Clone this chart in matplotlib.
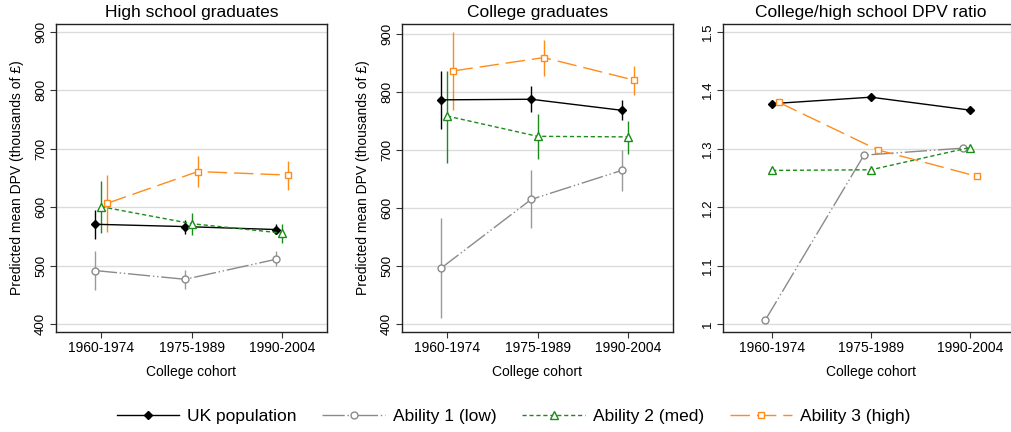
import numpy as np
import matplotlib
matplotlib.use('Agg')
import matplotlib.pyplot as plt
from matplotlib.lines import Line2D

plt.rcParams['font.family'] = ['Liberation Sans', 'DejaVu Sans']

cohorts = ['1960-1974', '1975-1989', '1990-2004']
series = ['UK population', 'Ability 1 (low)', 'Ability 2 (med)', 'Ability 3 (high)']

# high school graduates: mean and 95% CI
hs_uk = [571, 567, 562]
hs_uk_lo = [546, 555, 555]
hs_uk_hi = [596, 578, 572]
hs_a1 = [492, 477, 511]
hs_a1_lo = [458, 460, 500]
hs_a1_hi = [525, 493, 525]
hs_a2 = [601, 572, 556]
hs_a2_lo = [556, 552, 539]
hs_a2_hi = [645, 591, 571]
hs_a3 = [607, 661, 655]
hs_a3_lo = [558, 634, 629]
hs_a3_hi = [655, 688, 679]

# college graduates
col_uk = [787, 788, 769]
col_uk_lo = [736, 766, 752]
col_uk_hi = [837, 811, 787]
col_a1 = [496, 615, 665]
col_a1_lo = [410, 565, 630]
col_a1_hi = [583, 665, 701]
col_a2 = [759, 724, 723]
col_a2_lo = [678, 684, 693]
col_a2_hi = [837, 762, 751]
col_a3 = [837, 860, 821]
col_a3_lo = [770, 828, 796]
col_a3_hi = [905, 891, 845]

# ratio
ratio_uk = [1.377, 1.388, 1.366]
ratio_a1 = [1.007, 1.289, 1.301]
ratio_a2 = [1.263, 1.264, 1.302]
ratio_a3 = [1.379, 1.298, 1.253]

styles = [
    dict(color='black', ls='-', marker='D', ms=4.2, mfc='black', mec='black', ecol='black'),
    dict(color='#8a8a8a', ls=(0, (16, 2, 1, 2, 1, 2)), marker='o', ms=5, mfc='white', mec='#8a8a8a', ecol='#9a9a9a'),
    dict(color='#1a8c1a', ls=(0, (3, 2)), marker='^', ms=5.5, mfc='white', mec='#1a8c1a', ecol='#1a8c1a'),
    dict(color='#ff8c1a', ls=(0, (14, 5)), marker='s', ms=5, mfc='white', mec='#ff8c1a', ecol='#ff8c1a'),
]

W, H = 1011, 432
fig = plt.figure(figsize=(W / 100, H / 100), dpi=100)

def px(l, b, w, h):
    return [l / W, (H - b) / H, w / W, h / H]

ax1 = fig.add_axes(px(56, 332, 271, 308))
ax2 = fig.add_axes(px(402, 332, 271, 308))
ax3 = fig.add_axes(px(722.7, 332, 296.4, 308))

x = np.arange(1, 4)

def draw(ax, vals, offs, cis=None):
    for i, v in enumerate(vals):
        st = styles[i]
        xx = x + offs[i]
        if cis is not None:
            ax.vlines(xx, cis[i][0], cis[i][1], color=st['ecol'], lw=1, zorder=2)
        ax.plot(xx, v, color=st['color'], ls=st['ls'], lw=1, marker=st['marker'], ms=st['ms'],
                mfc=st['mfc'], mec=st['mec'], mew=1, zorder=3)

def style(ax, ylim, yticks, ylabels, title, ylabel=True):
    ax.set_xlim(0.5, 3.5)
    ax.set_ylim(*ylim)
    ax.set_xticks(x)
    ax.set_xticklabels(cohorts, fontsize=10)
    ax.set_yticks(yticks)
    ax.set_yticklabels(ylabels, fontsize=9.5, rotation=90, va='center')
    ax.grid(axis='y', color='#dcdcdc', lw=1, zorder=0)
    ax.set_axisbelow(True)
    ax.tick_params(direction='out', length=4.5, width=0.8, color='#333333', pad=2)
    for s in ax.spines.values():
        s.set_color('#222222')
        s.set_linewidth(1)
    ax.set_title(title, fontsize=12.5, pad=5)
    ax.set_xlabel('College cohort', fontsize=10, labelpad=7)
    if ylabel:
        ax.set_ylabel('Predicted mean DPV (thousands of £)', fontsize=10, labelpad=8)

off = [-0.07, -0.07, 0, 0.07]
draw(ax1, [hs_uk, hs_a1, hs_a2, hs_a3], off,
     [(hs_uk_lo, hs_uk_hi), (hs_a1_lo, hs_a1_hi), (hs_a2_lo, hs_a2_hi), (hs_a3_lo, hs_a3_hi)])
draw(ax2, [col_uk, col_a1, col_a2, col_a3], off,
     [(col_uk_lo, col_uk_hi), (col_a1_lo, col_a1_hi), (col_a2_lo, col_a2_hi), (col_a3_lo, col_a3_hi)])
draw(ax3, [ratio_uk, ratio_a1, ratio_a2, ratio_a3], [0, -0.07, 0, 0.07])

ticks = [400, 500, 600, 700, 800, 900]
style(ax1, (387, 913), ticks, [str(t) for t in ticks], 'High school graduates')
style(ax2, (386, 918), ticks, [str(t) for t in ticks], 'College graduates')
rt = [1.0, 1.1, 1.2, 1.3, 1.4, 1.5]
style(ax3, (0.987, 1.513), rt, ['1', '1.1', '1.2', '1.3', '1.4', '1.5'],
      'College/high school DPV ratio', ylabel=False)

handles = [Line2D([0], [0], color=st['color'], ls=st['ls'], lw=1, marker=st['marker'], ms=st['ms'],
                  mfc=st['mfc'], mec=st['mec']) for st in styles]
fig.legend(handles, series, loc='center', bbox_to_anchor=(0.508, 0.035), ncol=4, frameon=False,
           fontsize=12.5, handlelength=3.6, handletextpad=0.45, columnspacing=1.5)

fig.savefig('out.png', dpi=100)
